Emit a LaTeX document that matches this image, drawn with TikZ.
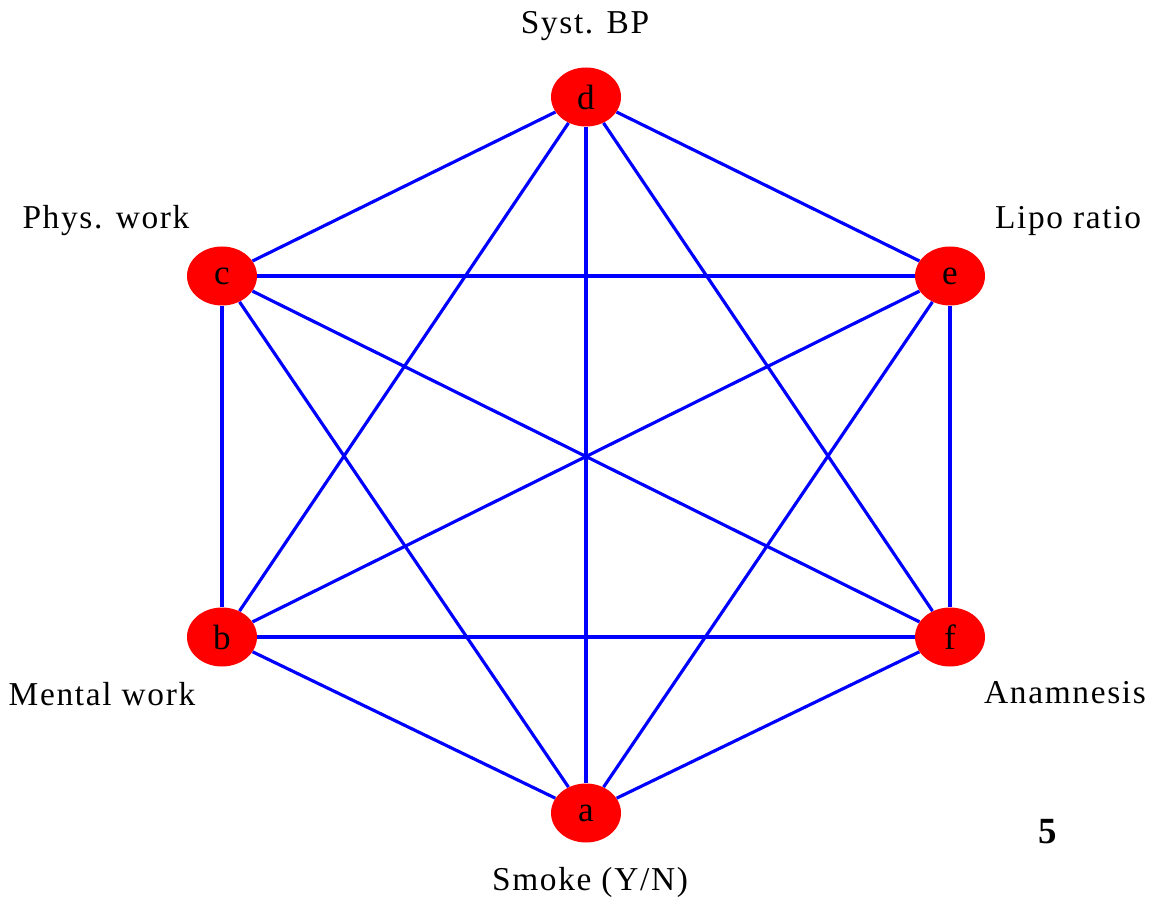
\documentclass[tikz,border=0pt]{standalone}
\usepackage{fontspec}
\setmainfont{Liberation Serif}
\newfontfamily\labelfont{Liberation Serif}[LetterSpace=5]

\tikzset{
  vertex/.style={ellipse,fill=red,draw=none,minimum width=1.4cm,minimum height=1.18cm,inner sep=0pt,font=\fontsize{20}{22}\selectfont},
  varname/.style={anchor=base,font=\labelfont\fontsize{19}{22}\selectfont},
  link/.style={blue,line width=1.8pt}
}
\usetikzlibrary{shapes.geometric}

\begin{document}
\begin{tikzpicture}
  \useasboundingbox (0,0) rectangle (22.98,18);
  % vertices
  \node[vertex] (d) at (11.72,16.06) {d};
  \node[vertex] (c) at (4.44,12.48) {c};
  \node[vertex] (e) at (19.00,12.48) {e};
  \node[vertex] (b) at (4.44,5.26) {b};
  \node[vertex] (f) at (19.00,5.26) {f};
  \node[vertex] (a) at (11.72,1.74) {a};
  % variable names
  \node[varname] (ld) at (11.70,17.32) {Syst. BP};
  \node[varname] (lc) at (2.12,13.42) {Phys. work};
  \node[varname] (le) at (21.36,13.42) {Lipo ratio};
  \node[varname] (lb) at (2.04,3.90) {Mental work};
  \node[varname] (lf) at (21.30,3.94) {Anamnesis};
  \node[varname] (la) at (11.80,0.20) {Smoke (Y/N)};
  \node[anchor=base,font=\bfseries\fontsize{21}{24}\selectfont] (num) at (20.96,1.14) {5};
  % edges
  \draw[link] (d) -- (c);
  \draw[link] (d) -- (e);
  \draw[link] (d) -- (b);
  \draw[link] (d) -- (f);
  \draw[link] (d) -- (a);
  \draw[link] (c) -- (e);
  \draw[link] (c) -- (b);
  \draw[link] (c) -- (f);
  \draw[link] (c) -- (a);
  \draw[link] (e) -- (b);
  \draw[link] (e) -- (f);
  \draw[link] (e) -- (a);
  \draw[link] (b) -- (f);
  \draw[link] (b) -- (a);
  \draw[link] (f) -- (a);
\end{tikzpicture}
\end{document}
